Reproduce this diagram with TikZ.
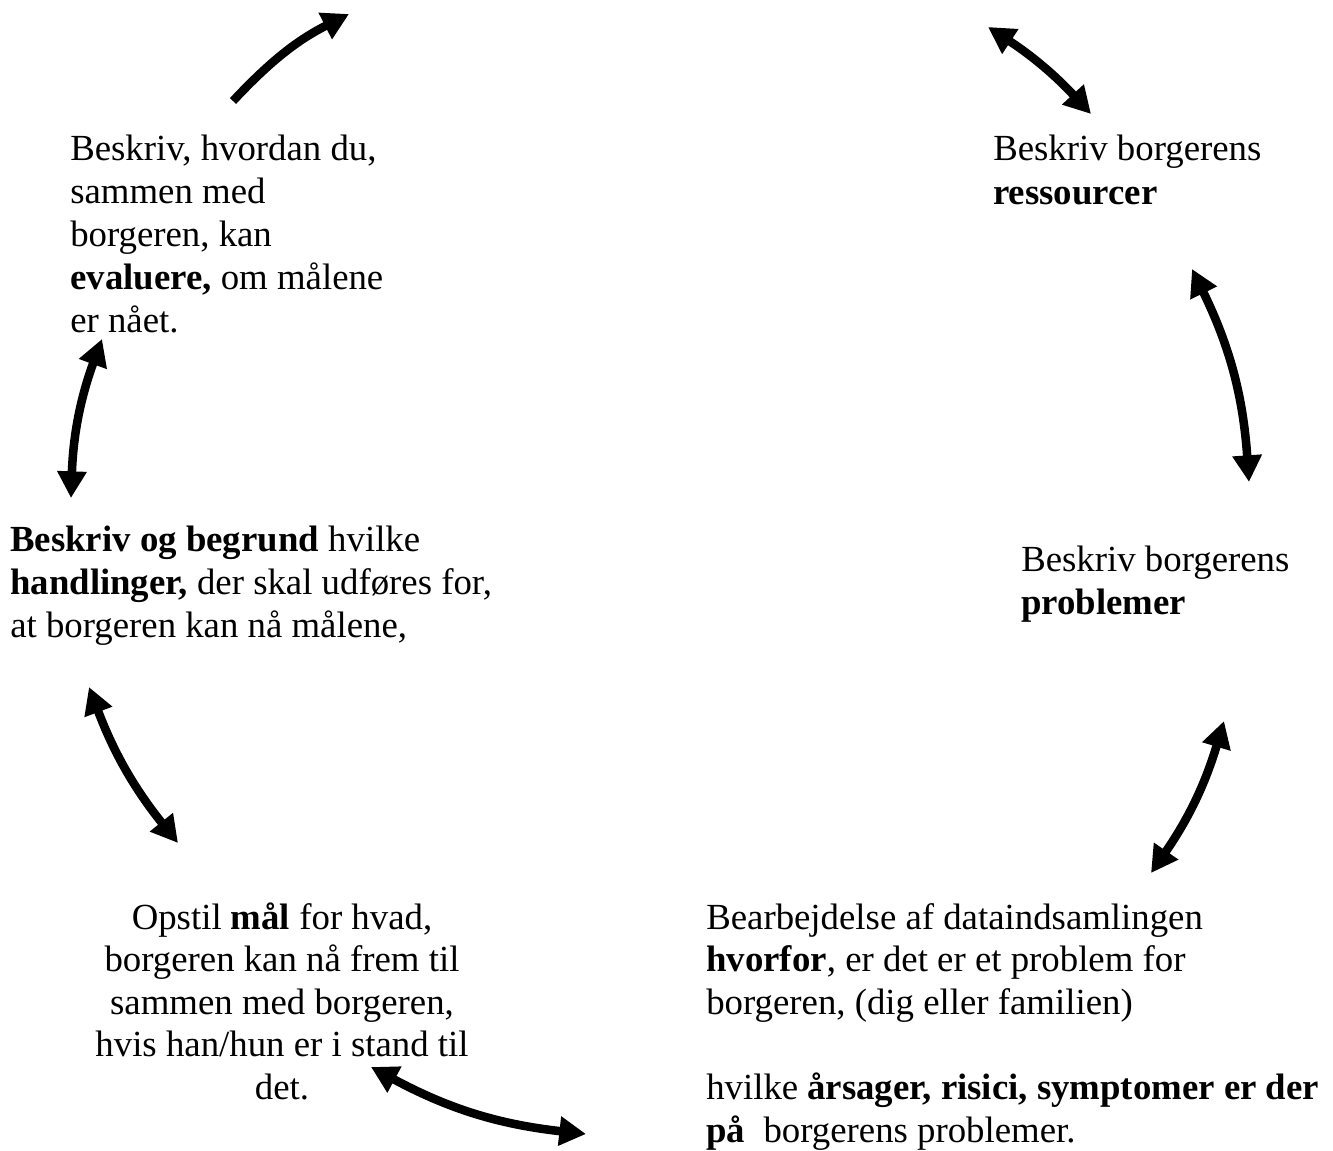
\documentclass[tikz,border=0pt]{standalone}
\usepackage{fontspec}
\setmainfont{Liberation Serif}
\usetikzlibrary{arrows.meta}
\tikzset{
  txt/.style={inner sep=0pt, anchor=base west, font=\fontsize{27.6pt}{32pt}\selectfont},
  ctxt/.style={inner sep=0pt, anchor=base, font=\fontsize{27.6pt}{32pt}\selectfont},
  bigarrow/.style={line width=6.4pt, -{Triangle[length=20pt,width=21pt]}},
  dblarrow/.style={line width=6.4pt, {Triangle[length=20pt,width=21pt]}-{Triangle[length=20pt,width=21pt]}}
}
\begin{document}
\begin{tikzpicture}[x=0.75pt,y=-0.75pt]
\useasboundingbox (0,0) rectangle (1333,1151);
% Block A
\node[txt] (a1) at (70,161) {Beskriv, hvordan du,};
\node[txt] (a2) at (70,204) {sammen med};
\node[txt] (a3) at (70,247) {borgeren, kan};
\node[txt] (a4) at (70,290) {\textbf{evaluere,} om målene};
\node[txt] (a5) at (70,333) {er nået.};
% Block B
\node[txt] (b1) at (993,161) {Beskriv borgerens};
\node[txt] (b2) at (993,205) {\textbf{ressourcer}};
% Block C
\node[txt] (c1) at (10,551) {\textbf{Beskriv og begrund} hvilke};
\node[txt] (c2) at (10,594) {\textbf{handlinger,} der skal udføres for,};
\node[txt] (c3) at (10,637) {at borgeren kan nå målene,};
% Block D
\node[txt] (d1) at (1021,571) {Beskriv borgerens};
\node[txt] (d2) at (1021,614) {\textbf{problemer}};
% Block E
\node[ctxt] (e1) at (282,929) {Opstil \textbf{mål} for hvad,};
\node[ctxt] (e2) at (282,971) {borgeren kan nå frem til};
\node[ctxt] (e3) at (282,1014) {sammen med borgeren,};
\node[ctxt] (e4) at (282,1056) {hvis han/hun er i stand til};
\node[ctxt] (e5) at (282,1099) {det.};
% Block F
\node[txt] (f1) at (706,929) {Bearbejdelse af dataindsamlingen};
\node[txt] (f2) at (706,971) {\textbf{hvorfor}, er det er et problem for};
\node[txt] (f3) at (706,1014) {borgeren, (dig eller familien)};
\node[txt] (f4) at (706,1099) {hvilke \textbf{årsager, risici, symptomer er der}};
\node[txt] (f5) at (706,1142) {\textbf{på}\ \ borgerens problemer.};
% arrow end points
\coordinate (p1s) at (233,101);
\coordinate (p1e) at (349,14);
\coordinate (p2s) at (988,27);
\coordinate (p2e) at (1091,114);
\coordinate (p3s) at (1192,269);
\coordinate (p3e) at (1249,482);
\coordinate (p4s) at (1224,721);
\coordinate (p4e) at (1151,873);
\coordinate (p5s) at (586,1134);
\coordinate (p5e) at (371,1067);
\coordinate (p6s) at (71,498);
\coordinate (p6e) at (102,339);
\coordinate (p7s) at (178,843);
\coordinate (p7e) at (89,687);
% arrows
\draw[bigarrow] (p1s) to[bend left=10] (p1e);
\draw[dblarrow] (p2s) to[bend left=7] (p2e);
\draw[dblarrow] (p3s) to[bend left=11] (p3e);
\draw[dblarrow] (p4s) to[bend left=9] (p4e);
\draw[dblarrow] (p5s) to[bend left=11] (p5e);
\draw[dblarrow] (p6s) to[bend left=9] (p6e);
\draw[dblarrow] (p7s) to[bend left=9] (p7e);
\end{tikzpicture}
\end{document}
